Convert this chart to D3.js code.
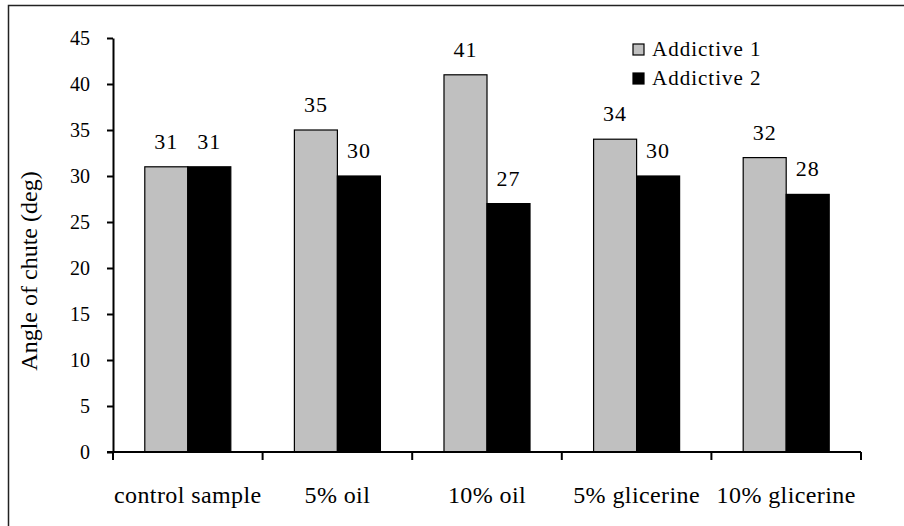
<!DOCTYPE html>
<html>
<head>
<meta charset="utf-8">
<script src="https://cdn.jsdelivr.net/npm/d3@7"></script>
<style>
  body { margin: 0; background: #fff; }
  text { font-family: "Liberation Serif", "Times New Roman", serif; fill: #000; }
</style>
</head>
<body>
<div class="chart"></div>
<script>
var categories = ["control sample", "5% oil", "10% oil", "5% glicerine", "10% glicerine"];
var seriesNames = ["Addictive 1", "Addictive 2"];
var additive1 = [31, 35, 41, 34, 32];
var additive2 = [31, 30, 27, 30, 28];
var yTicks = [0, 5, 10, 15, 20, 25, 30, 35, 40, 45];
var seriesColors = ["#c0c0c0", "#000000"];

var width = 904, height = 526;
var svg = d3.select(".chart")
            .append("svg")
            .attr("width", width)
            .attr("height", height);

// outer frame (right and bottom edges fall outside the picture)
svg.append("rect")
   .attr("x", 8.5).attr("y", 5.5)
   .attr("width", 1000).attr("height", 1000)
   .attr("fill", "none")
   .attr("stroke", "#222")
   .attr("stroke-width", 1.5);

var plotLeft = 113, plotRight = 861, plotTop = 38, plotBottom = 452;

var x0 = d3.scaleBand().domain(categories).range([plotLeft, plotRight]).padding(0);
var groupW = x0.bandwidth() * 0.575;
var x1 = d3.scaleBand().domain(seriesNames)
           .range([(x0.bandwidth() - groupW) / 2, (x0.bandwidth() + groupW) / 2]);
var y = d3.scaleLinear().domain([0, 45]).range([plotBottom, plotTop]);

var rows = categories.map(function(c, i) {
    return { cat: c, values: [
        { name: seriesNames[0], v: additive1[i], color: seriesColors[0] },
        { name: seriesNames[1], v: additive2[i], color: seriesColors[1] }
    ]};
});

var groups = svg.selectAll(".grp")
    .data(rows)
    .enter().append("g")
    .attr("class", "grp")
    .attr("transform", function(d) { return "translate(" + x0(d.cat) + ",0)"; });

groups.selectAll("rect")
    .data(function(d) { return d.values; })
    .enter().append("rect")
    .attr("x", function(d) { return x1(d.name); })
    .attr("y", function(d) { return y(d.v); })
    .attr("width", x1.bandwidth())
    .attr("height", function(d) { return y(0) - y(d.v); })
    .attr("fill", function(d) { return d.color; })
    .attr("stroke", "#000")
    .attr("stroke-width", 1.2);

groups.selectAll(".val")
    .data(function(d) { return d.values; })
    .enter().append("text")
    .attr("class", "val")
    .attr("x", function(d) { return x1(d.name) + x1.bandwidth() / 2; })
    .attr("y", function(d) { return y(d.v) - 18; })
    .attr("text-anchor", "middle")
    .style("font-size", "22px")
    .style("letter-spacing", "1px")
    .text(function(d) { return d.v; });

// y axis
var yAxis = svg.append("g")
    .attr("transform", "translate(" + plotLeft + ",0)")
    .call(d3.axisLeft(y).tickValues(yTicks).tickSize(6).tickPadding(17).tickSizeOuter(0));
yAxis.select(".domain").attr("stroke", "#000").attr("stroke-width", 2);
yAxis.selectAll(".tick line").attr("stroke", "#000").attr("stroke-width", 2);
yAxis.selectAll(".tick text")
    .attr("fill", "#000")
    .style("font-family", "Liberation Serif, serif")
    .style("font-size", "20px")
    .attr("dy", "0.34em");

// x axis: line plus ticks at the category boundaries
var xa = svg.append("g");
xa.append("line")
  .attr("x1", plotLeft - 6).attr("x2", plotRight)
  .attr("y1", plotBottom).attr("y2", plotBottom)
  .attr("stroke", "#000").attr("stroke-width", 2);
var bounds = categories.map(function(c) { return x0(c); }).concat([plotRight]);
xa.selectAll(".xt")
  .data(bounds)
  .enter().append("line")
  .attr("x1", function(d) { return d; }).attr("x2", function(d) { return d; })
  .attr("y1", plotBottom).attr("y2", plotBottom + 8)
  .attr("stroke", "#000").attr("stroke-width", 2);
xa.selectAll(".xl")
  .data(categories)
  .enter().append("text")
  .attr("x", function(d) { return x0(d) + x0.bandwidth() / 2; })
  .attr("y", 503)
  .attr("text-anchor", "middle")
  .style("font-size", "24px")
  .style("letter-spacing", "0.4px")
  .text(function(d) { return d; });

// y axis title
svg.append("text")
   .attr("transform", "translate(37,271) rotate(-90)")
   .attr("text-anchor", "middle")
   .style("font-size", "24px")
   .text("Angle of chute (deg)");

// legend
var legend = svg.append("g").attr("transform", "translate(633,44)");
var li = legend.selectAll(".li")
    .data(seriesNames)
    .enter().append("g")
    .attr("transform", function(d, i) { return "translate(0," + (i * 29) + ")"; });
li.append("rect")
  .attr("width", 11).attr("height", 11)
  .attr("fill", function(d, i) { return seriesColors[i]; })
  .attr("stroke", "#000").attr("stroke-width", 1.2);
li.append("text")
  .attr("x", 19).attr("y", 12)
  .style("font-size", "21px")
  .style("letter-spacing", "1px")
  .text(function(d) { return d; });
</script>
</body>
</html>
